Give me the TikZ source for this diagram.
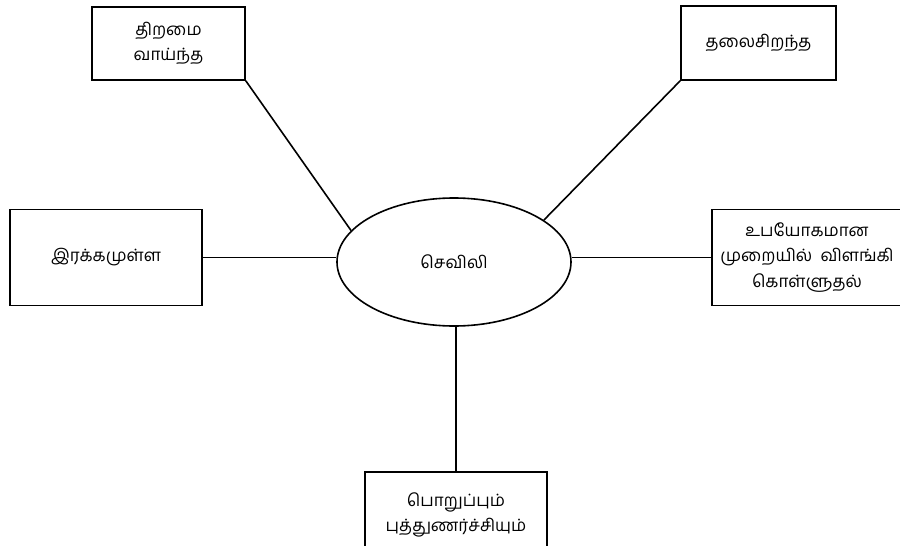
\documentclass[tikz,border=0pt]{standalone}
\usepackage{fontspec}
\newfontfamily\tamilfont[Script=Tamil]{Hind Madurai}
\usetikzlibrary{shapes.geometric}
\begin{document}
\begin{tikzpicture}[x=1pt,y=-1pt,
  every node/.style={font=\tamilfont\fontsize{17}{25.5}\selectfont, align=center},
  boxnode/.style={draw, line width=1.6pt, inner sep=0pt},
  link/.style={line width=1.6pt}]
\useasboundingbox (0,0) rectangle (900,546);
\clip (0,0) rectangle (900,546);
\fill[white] (0,0) rectangle (900,546);
\node[draw, ellipse, line width=1.6pt, minimum width=234pt, minimum height=128pt, inner sep=0pt] (ell) at (454,262) {செவிலி};
\node[boxnode, minimum width=153pt, minimum height=73pt] (b1) at (168.5,43.5) {திறமை\\வாய்ந்த};
\node[boxnode, minimum width=155pt, minimum height=74pt] (b2) at (758.5,43) {தலைசிறந்த};
\node[boxnode, minimum width=192pt, minimum height=96pt] (b3) at (106,257.5) {இரக்கமுள்ள};
\node[boxnode, minimum width=190pt, minimum height=96pt] (b4) at (807,257.5) {உபயோகமான\\முறையில்\ \ விளங்கி\\கொள்ளுதல்};
\node[boxnode, minimum width=182pt, minimum height=86pt] (b5) at (456,515) {பொறுப்பும்\\புத்துணர்ச்சியும்};
\draw[link] (b1.south east) -- (ell.163.6);
\draw[link] (b2.south west) -- (ell.25.5);
\draw[link] (b3.east) -- (ell.west |- b3.east);
\draw[link] (b4.west) -- (ell.east |- b4.west);
\draw[link] (b5.north) -- (b5.north |- ell.south);
\end{tikzpicture}
\end{document}
